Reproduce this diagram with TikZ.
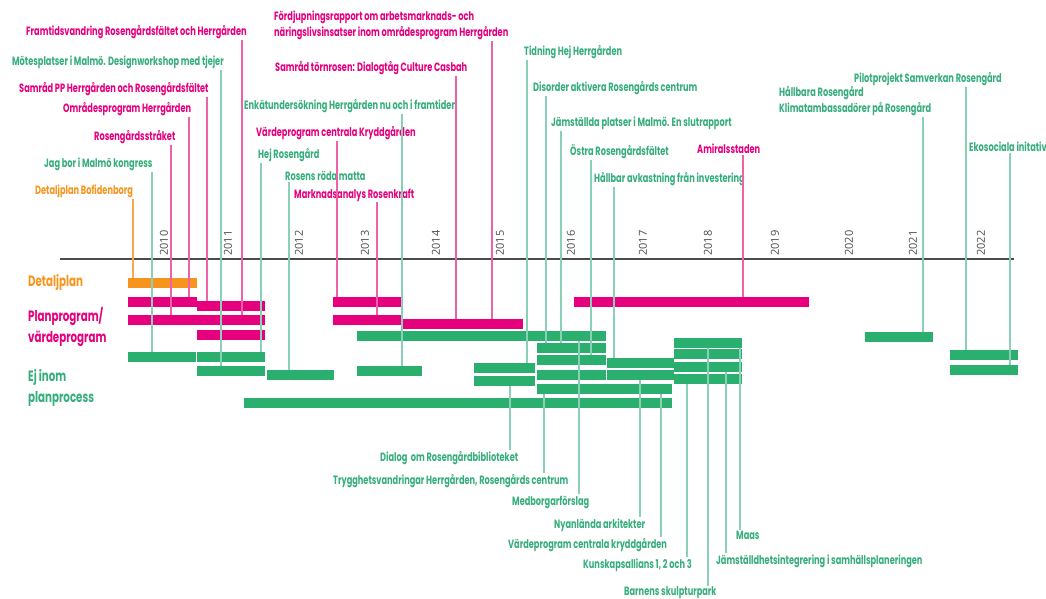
\documentclass[tikz,border=0pt]{standalone}
\usepackage{fontspec}
\usepackage{xcolor}
\usepackage{tikz}
\newfontfamily\gothic{Poppins}[FakeStretch=0.685]
\newfontfamily\yearfont{Open Sans}
\definecolor{rosa}{HTML}{E6007E}
\definecolor{rosaljus}{HTML}{EE62A9}
\definecolor{gron}{HTML}{2BAF6E}
\definecolor{gronljus}{HTML}{8ACFB8}
\definecolor{grontext}{HTML}{36AE7C}
\definecolor{orangeC}{HTML}{F7941D}
\definecolor{orangeljus}{HTML}{F9A84E}
\tikzstyle{pinkbar} = [rectangle, anchor=north west, inner sep=0pt, minimum height=9.5, fill=rosa]
\tikzstyle{greenbar} = [rectangle, anchor=north west, inner sep=0pt, minimum height=9.5, fill=gron]
\tikzstyle{orangebar} = [rectangle, anchor=north west, inner sep=0pt, minimum height=9.5, fill=orangeC]
\tikzstyle{lbl} = [anchor=west, inner sep=1pt, align=left, font=\gothic\bfseries\fontsize{12}{16}\selectfont]
\tikzstyle{legend} = [anchor=west, inner sep=0pt, align=left, font=\gothic\bfseries\fontsize{15}{21}\selectfont]
\tikzstyle{year} = [rotate=90, anchor=west, inner sep=0pt, text=black!70, font=\yearfont\fontsize{11}{12}\selectfont]
\tikzstyle{axis} = [black!70, line width=1.2pt]
\tikzstyle{pinkln} = [rosaljus, line width=1.1pt]
\tikzstyle{greenln} = [gronljus, line width=1.1pt]
\tikzstyle{orangeln} = [orangeljus, line width=1.1pt]

\begin{document}
\begin{tikzpicture}[x=1pt, y=-1pt]
        \useasboundingbox (0,0) rectangle (1046,599);

        \coordinate (axisL) at (60,259);
        \coordinate (axisR) at (1014,259);
        \draw [axis] (axisL) -- (axisR);

        \node (y2010) [year] at (164,256) {2010};
        \node (y2011) [year] at (228,256) {2011};
        \node (y2012) [year] at (299,256) {2012};
        \node (y2013) [year] at (365,256) {2013};
        \node (y2014) [year] at (436,256) {2014};
        \node (y2015) [year] at (500,256) {2015};
        \node (y2016) [year] at (571,256) {2016};
        \node (y2017) [year] at (643,256) {2017};
        \node (y2018) [year] at (708,256) {2018};
        \node (y2019) [year] at (775,256) {2019};
        \node (y2020) [year] at (849,256) {2020};
        \node (y2021) [year] at (913,256) {2021};
        \node (y2022) [year] at (981,256) {2022};

        \node (detaljplan) [legend, text=orangeC] at (28,282) {Detaljplan};
        \node (planprogram) [legend, text=rosa] at (28,327) {Planprogram/\\värdeprogram};
        \node (ejinom) [legend, text=grontext] at (28,388) {Ej inom\\planprocess};

        \node (o1) [orangebar, minimum width=69] at (128,278) {};
        \node (p1) [pinkbar, minimum width=69] at (128,297) {};
        \node (p2) [pinkbar, minimum width=68] at (197,301) {};
        \node (p3) [pinkbar, minimum width=137] at (128,315) {};
        \node (p4) [pinkbar, minimum width=68] at (197,330) {};
        \node (p5) [pinkbar, minimum width=69] at (333,297) {};
        \node (p6) [pinkbar, minimum width=69] at (333,315) {};
        \node (p7) [pinkbar, minimum width=120] at (403,319) {};
        \node (p8) [pinkbar, minimum width=235] at (574,297) {};
        \node (g1) [greenbar, minimum width=68] at (128,352) {};
        \node (g2) [greenbar, minimum width=68] at (197,352) {};
        \node (g3) [greenbar, minimum width=68] at (197,366) {};
        \node (g4) [greenbar, minimum width=67] at (267,370) {};
        \node (g5) [greenbar, minimum width=428] at (244,398) {};
        \node (g6) [greenbar, minimum width=249] at (357,331) {};
        \node (g7) [greenbar, minimum width=69] at (537,343) {};
        \node (g8) [greenbar, minimum width=69] at (537,355) {};
        \node (g9) [greenbar, minimum width=69] at (537,370) {};
        \node (g10) [greenbar, minimum width=61] at (474,363) {};
        \node (g11) [greenbar, minimum width=61] at (474,376) {};
        \node (g12) [greenbar, minimum width=65] at (357,366) {};
        \node (g13) [greenbar, minimum width=135] at (537,384) {};
        \node (g14) [greenbar, minimum width=67] at (607,358) {};
        \node (g15) [greenbar, minimum width=67] at (607,370) {};
        \node (g16) [greenbar, minimum width=68] at (674,338) {};
        \node (g17) [greenbar, minimum width=68] at (674,349) {};
        \node (g18) [greenbar, minimum width=68] at (674,362) {};
        \node (g19) [greenbar, minimum width=68] at (674,374) {};
        \node (g20) [greenbar, minimum width=68] at (865,332) {};
        \node (g21) [greenbar, minimum width=68] at (950,350) {};
        \node (g22) [greenbar, minimum width=68] at (950,365) {};

        \node (framtid) [lbl, text=rosa] at (25,32) {Framtidsvandring Rosengårdsfältet och Herrgården};
        \node (motes) [lbl, text=grontext] at (11,62) {Mötesplatser i Malmö. Designworkshop med tjejer};
        \node (samradpp) [lbl, text=rosa] at (18,89) {Samråd PP Herrgården och Rosengårdsfältet};
        \node (omrades) [lbl, text=rosa] at (62,109) {Områdesprogram Herrgården};
        \node (strak) [lbl, text=rosa] at (93,137) {Rosengårdsstråket};
        \node (jagbor) [lbl, text=grontext] at (43,164) {Jag bor i Malmö kongress};
        \node (bolid) [lbl, text=orangeC] at (34,191) {Detaljplan Bofidenborg};
        \node (fordjup) [lbl, text=rosa] at (273,25) {Fördjupningsrapport om arbetsmarknads- och\\näringslivsinsatser inom områdesprogram Herrgården};
        \node (tornrosen) [lbl, text=rosa] at (274,68) {Samråd törnrosen: Dialogtåg Culture Casbah};
        \node (enkat) [lbl, text=grontext] at (243,106) {Enkätundersökning Herrgården nu och i framtiden};
        \node (vardeK) [lbl, text=rosa] at (255,133) {Värdeprogram centrala Kryddgården};
        \node (hejros) [lbl, text=grontext] at (257,155) {Hej Rosengård};
        \node (roda) [lbl, text=grontext] at (284,176) {Rosens röda matta};
        \node (marknad) [lbl, text=rosa] at (293,195) {Marknadsanalys Rosenkraft};
        \node (tidning) [lbl, text=grontext] at (523,52) {Tidning Hej Herrgården};
        \node (disorder) [lbl, text=grontext] at (532,88) {Disorder aktivera Rosengårds centrum};
        \node (jamplats) [lbl, text=grontext] at (550,123) {Jämställda platser i Malmö. En slutrapport};
        \node (ostra) [lbl, text=grontext] at (569,152) {Östra Rosengårdsfältet};
        \node (hallbar) [lbl, text=grontext] at (593,179) {Hållbar avkastning från investering};
        \node (amiral) [lbl, text=rosa] at (696,149) {Amiralsstaden};
        \node (klimat) [lbl, text=grontext] at (778,101) {Hållbara Rosengård\\Klimatambassadörer på Rosengård};
        \node (pilot) [lbl, text=grontext] at (853,79) {Pilotprojekt Samverkan Rosengård};
        \node (ekosoc) [lbl, text=grontext] at (968,147) {Ekosociala initativ};

        \node (dialog) [lbl, text=grontext] at (379,458) {Dialog\ \ om Rosengårdbiblioteket};
        \node (trygg) [lbl, text=grontext] at (332,481) {Trygghetsvandringar Herrgården, Rosengårds centrum};
        \node (medborg) [lbl, text=grontext] at (511,502) {Medborgarförslag};
        \node (nyanl) [lbl, text=grontext] at (553,525) {Nyanlända arkitekter};
        \node (vardek) [lbl, text=grontext] at (507,545) {Värdeprogram centrala kryddgården};
        \node (kunskap) [lbl, text=grontext] at (582,565) {Kunskapsallians 1, 2 och 3};
        \node (barnens) [lbl, text=grontext] at (623,593) {Barnens skulpturpark};
        \node (jamint) [lbl, text=grontext] at (715,561) {Jämställdhetsintegrering i samhällsplaneringen};
        \node (maas) [lbl, text=grontext] at (735,535) {Maas};

        \draw [orangeln] (bolid.south -| 133,0) -- (o1.north -| 133,0);
        \draw [greenln] (jagbor.south -| 152,0) -- (g1.north -| 152,0);
        \draw [pinkln] (strak.south -| 171,0) -- (p3.north -| 171,0);
        \draw [pinkln] (omrades.south -| 189,0) -- (p1.north -| 189,0);
        \draw [pinkln] (samradpp.south -| 207,0) -- (p2.north -| 207,0);
        \draw [greenln] (motes.south -| 221,0) -- (g3.north -| 221,0);
        \draw [pinkln] (framtid.south -| 242,0) -- (p3.north -| 242,0);
        \draw [greenln] (hejros.south -| 261,0) -- (g2.north -| 261,0);
        \draw [greenln] (roda.south -| 289,0) -- (g4.north -| 289,0);
        \draw [pinkln] (vardeK.south -| 337,0) -- (p5.north -| 337,0);
        \draw [pinkln] (marknad.south -| 377,0) -- (p6.north -| 377,0);
        \draw [greenln] (enkat.south -| 402,0) -- (g12.north -| 402,0);
        \draw [pinkln] (tornrosen.south -| 456,0) -- (p7.north -| 456,0);
        \draw [pinkln] (fordjup.south -| 492,0) -- (p7.north -| 492,0);
        \draw [greenln] (tidning.south -| 527,0) -- (g10.north -| 527,0);
        \draw [greenln] (disorder.south -| 546,0) -- (g7.north -| 546,0);
        \draw [greenln] (jamplats.south -| 561,0) -- (g7.north -| 561,0);
        \draw [greenln] (ostra.south -| 591,0) -- (g8.north -| 591,0);
        \draw [greenln] (hallbar.south -| 614,0) -- (g14.north -| 614,0);
        \draw [pinkln] (amiral.south -| 743,0) -- (p8.north -| 743,0);
        \draw [greenln] (klimat.south -| 923,0) -- (g20.north -| 923,0);
        \draw [greenln] (pilot.south -| 966,0) -- (g21.north -| 966,0);
        \draw [greenln] (ekosoc.south -| 1010,0) -- (g22.north -| 1010,0);

        \draw [greenln] (g11.south -| 510,0) -- (dialog.north -| 510,0);
        \draw [greenln] (g13.south -| 544,0) -- (trygg.north -| 544,0);
        \draw [greenln] (g6.south -| 579,0) -- (medborg.north -| 579,0);
        \draw [greenln] (g15.south -| 640,0) -- (nyanl.north -| 640,0);
        \draw [greenln] (g13.south -| 661,0) -- (vardek.north -| 661,0);
        \draw [greenln] (g19.south -| 687,0) -- (kunskap.north -| 687,0);
        \draw [greenln] (g16.south -| 708,0) -- (barnens.north -| 708,0);
        \draw [greenln] (g18.south -| 726,0) -- (jamint.north -| 726,0);
        \draw [greenln] (g16.south -| 740,0) -- (maas.north -| 740,0);

    \end{tikzpicture}
\end{document}
